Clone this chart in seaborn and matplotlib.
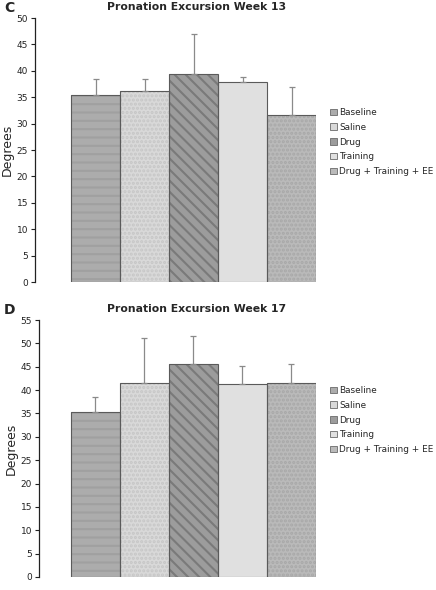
import matplotlib
matplotlib.use("Agg")
import matplotlib.pyplot as plt
import seaborn as sns
import pandas as pd
import numpy as np

groups = ["Baseline", "Saline", "Drug", "Training", "Drug + Training + EE"]
week13_mean = [35.4, 36.1, 39.4, 37.8, 31.7]
week13_err = [3.1, 2.4, 7.6, 1.0, 5.3]
week17_mean = [35.4, 41.6, 45.6, 41.3, 41.6]
week17_err = [3.1, 9.6, 6.0, 3.9, 4.0]

colors = ["#acacac", "#d9d9d9", "#9c9c9c", "#e0e0e0", "#bababa"]
hatch_colors = ["#a0a0a0", "#c6c6c6", "#7a7a7a", "#d8d8d8", "#a8a8a8"]
hatches = ["--", "....", "\\\\\\", "", "...."]

sns.set_theme(style="white")
plt.rcParams['font.family'] = ['DejaVu Sans']
plt.rcParams['hatch.linewidth'] = 1.5

fig = plt.figure(figsize=(4.36, 5.90), dpi=100)
W, H = 436, 590


def panel(axbox, means, errs, title, letter, ymax, xleft, legend_y):
    l, t, r, b = axbox
    ax = fig.add_axes([l / W, 1 - b / H, (r - l) / W, (b - t) / H])
    df = pd.DataFrame({"group": groups, "value": means})
    # filled, textured bars (hatch drawn in the edge colour)
    sns.barplot(data=df, x="group", y="value", hue="group", palette=colors,
                width=1.0, dodge=False, legend=False, ax=ax,
                linewidth=0, saturation=1)
    for patch, h, hc in zip(ax.patches, hatches, hatch_colors):
        patch.set_hatch(h)
        patch.set_edgecolor(hc)
    # outlines
    sns.barplot(data=df, x="group", y="value", width=1.0, fill=False,
                edgecolor="#5a5a5a", linewidth=0.8, ax=ax, errorbar=None)
    ax.errorbar(range(len(groups)), means, yerr=[np.zeros(len(errs)), errs],
                fmt="none", ecolor="#8a8a8a", elinewidth=0.9, capsize=2.5, capthick=0.9)
    ax.set_xlim(xleft, 4.5)
    ax.set_ylim(0, ymax)
    ax.set_yticks(np.arange(0, ymax + 1, 5))
    ax.tick_params(axis="y", labelsize=6.5, length=3, width=0.8, direction="out",
                   left=True, pad=2, colors="#222222")
    ax.set_xticks([])
    ax.set_xlabel("")
    ax.set_ylabel("Degrees", fontsize=9, labelpad=2)
    for s in ["top", "right", "bottom"]:
        ax.spines[s].set_visible(False)
    ax.spines["left"].set_color("#222222")
    ax.spines["left"].set_linewidth(0.9)
    fig.text(197 / W, 1 - (t - 11) / H, title, ha="center", va="center",
             fontsize=7.8, fontweight="bold")
    fig.text(4 / W, 1 - (t - 10) / H, letter, ha="left", va="center",
             fontsize=10, fontweight="bold")
    handles = [plt.Rectangle((0, 0), 1, 1, facecolor=c, edgecolor="#6a6a6a",
                             linewidth=0.6) for c in colors]
    fig.legend(handles, groups, loc="upper left",
               bbox_to_anchor=(330 / W, 1 - (legend_y + 3) / H), frameon=False,
               fontsize=6.4, handlelength=0.75, handleheight=0.75, handletextpad=0.3,
               labelspacing=0.65, borderpad=0, borderaxespad=0)
    return ax


panel((35, 18, 316, 282), week13_mean, week13_err, "Pronation Excursion Week 13", "C",
      50, -1.235, 105)
panel((39, 320, 316, 577), week17_mean, week17_err, "Pronation Excursion Week 17", "D",
      55, -1.153, 383)

fig.savefig("out.png", dpi=100)
